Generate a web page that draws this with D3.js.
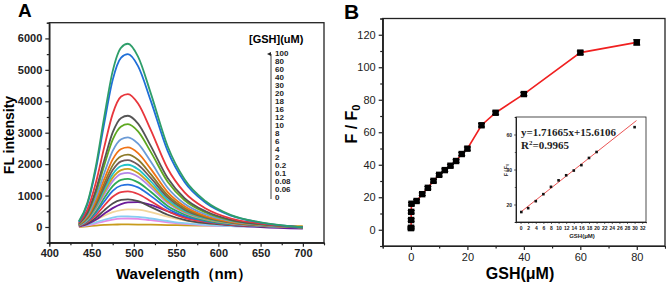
<!DOCTYPE html>
<html>
<head>
<meta charset="utf-8">
<script src="https://cdn.jsdelivr.net/npm/d3@7"></script>
<style>
body { margin: 0; background: #fff; }
svg { display: block; font-family: "Liberation Sans", Arial, sans-serif; }
.ax path, .ax line { stroke: #222; }
.ax text { fill: #222; }
</style>
</head>
<body>
<div id="chart"></div>
<script>
// ---- panel A data: fluorescence spectra, one row per GSH level (highest first)
var wavelengths = [435, 445, 455, 465, 475, 485, 493, 505, 520, 540, 560, 585, 615, 650, 700]
var spectra = [
	[180, 760, 1920, 3500, 4960, 5710, 5830, 5420, 4260, 2570, 1520, 820, 380, 150, -10],
	[160, 720, 1820, 3300, 4680, 5390, 5500, 5120, 4020, 2420, 1430, 770, 360, 140, -10],
	[130, 550, 1400, 2540, 3600, 4150, 4230, 3930, 3090, 1860, 1100, 590, 270, 110, -10],
	[110, 460, 1170, 2120, 3010, 3470, 3540, 3290, 2580, 1560, 920, 500, 230, 90, -10],
	[100, 430, 1080, 1960, 2780, 3200, 3270, 3040, 2390, 1440, 850, 460, 210, 80, -10],
	[90, 370, 940, 1710, 2420, 2790, 2850, 2650, 2080, 1250, 740, 400, 190, 70, -10],
	[80, 330, 840, 1520, 2150, 2480, 2530, 2350, 1850, 1110, 660, 350, 160, 60, -10],
	[70, 300, 760, 1380, 1960, 2250, 2300, 2140, 1680, 1010, 600, 320, 150, 60, -10],
	[60, 280, 700, 1280, 1810, 2090, 2130, 1980, 1560, 940, 550, 300, 140, 50, -10],
	[60, 260, 650, 1190, 1680, 1940, 1980, 1840, 1450, 870, 510, 280, 130, 50, -10],
	[60, 240, 610, 1110, 1570, 1810, 1850, 1720, 1350, 810, 480, 260, 120, 50, -10],
	[50, 220, 570, 1030, 1460, 1690, 1720, 1600, 1260, 760, 450, 240, 110, 40, -10],
	[50, 200, 500, 920, 1300, 1500, 1530, 1420, 1120, 670, 400, 210, 100, 40, -10],
	[40, 180, 450, 810, 1150, 1320, 1350, 1260, 990, 590, 350, 190, 90, 30, -10],
	[30, 150, 370, 680, 960, 1110, 1130, 1050, 820, 500, 290, 160, 70, 30, -10],
	[30, 110, 290, 530, 750, 860, 880, 820, 640, 390, 230, 120, 60, 20, -10],
	[20, 90, 230, 420, 600, 730, 780, 790, 700, 500, 320, 170, 60, 0, -50],
	[20, 90, 220, 360, 470, 540, 560, 550, 470, 330, 210, 120, 60, 20, 0],
	[20, 70, 150, 230, 300, 335, 340, 320, 270, 190, 120, 70, 30, 10, -10],
	[10, 50, 110, 180, 235, 265, 270, 255, 215, 150, 100, 55, 25, 5, -20],
	[0, 20, 45, 65, 78, 80, 80, 78, 72, 62, 55, 45, 40, 35, 30]
]
var spectraColors = ['#2e9e6a', '#1f6fd8', '#e8363c', '#555555', '#5ea820', '#6b9bd6', '#f07315',
	'#8c7a28', '#6f5a5c', '#22c3c9', '#c9a21f', '#b486e8', '#2faa55', '#2671e0', '#e63a44',
	'#4d4d4d', '#6a1b9a', '#f1d59a', '#86ccf2', '#e48ae6', '#c89b1c']
var gshLevels = ['100', '80', '60', '40', '30', '20', '18', '16', '12', '10', '8', '6', '4', '2',
	'0.2', '0.1', '0.08', '0.06', '0']

// ---- panel B data: F/F0 vs GSH
var gshX = [0, 0.06, 0.08, 0.1, 0.2, 2, 4, 6, 8, 10, 12, 14, 16, 18, 20, 25, 30, 40, 60, 80]
var ratio = [1, 1.2, 6, 11, 16, 17.7, 21.9, 25.8, 30.1, 33.8, 36.7, 39.4, 42.3, 46.6, 49.9, 64.3, 72, 83.5, 109, 115.3]
var ratioErr = [0.6, 0.6, 0.8, 0.8, 0.8, 0.8, 0.8, 0.8, 0.8, 0.8, 0.8, 0.8, 0.8, 1, 1, 1, 1, 1, 1, 1.6]

// ---- inset: linear range
var fitX = [0.2, 2, 4, 6, 8, 10, 12, 14, 16, 18, 20, 30]
var fitY = [15.7, 17.9, 21.9, 25.9, 30.1, 33.8, 36.7, 39.4, 42.5, 46.6, 50, 64.2]
var fitSlope = 1.71665, fitIntercept = 15.6106
var fitRange = [0, 30.5]

var svg = d3.select('#chart').append('svg').attr('width', 666).attr('height', 286)

function frame(x, y, sw) {
	svg.append('rect')
		.attr('x', x.range()[0]).attr('y', y.range()[1])
		.attr('width', x.range()[1] - x.range()[0]).attr('height', y.range()[0] - y.range()[1])
		.attr('fill', 'none').attr('stroke', '#222').attr('stroke-width', sw || 1.3)
}

function axes(x, y, opt) {
	var gx = svg.append('g').attr('class', 'ax').attr('transform', 'translate(0,' + y.range()[0] + ')')
	gx.call(d3.axisBottom(x).tickValues(opt.xMinor).tickSize(opt.minor).tickFormat(''))
	gx.append('g').call(d3.axisBottom(x).tickValues(opt.xMajor).tickSize(opt.major).tickSizeOuter(0)
		.tickPadding(opt.pad).tickFormat(d3.format('d')))
	var gy = svg.append('g').attr('class', 'ax').attr('transform', 'translate(' + x.range()[0] + ',0)')
	gy.call(d3.axisLeft(y).tickValues(opt.yMinor).tickSize(opt.minor).tickFormat(''))
	gy.append('g').call(d3.axisLeft(y).tickValues(opt.yMajor).tickSize(opt.major).tickSizeOuter(0)
		.tickPadding(opt.pad).tickFormat(d3.format('d')))
	svg.selectAll('.ax path').attr('stroke', 'none')
	gx.selectAll('line').attr('stroke-width', opt.sw)
	gy.selectAll('line').attr('stroke-width', opt.sw)
	gx.selectAll('text').style('font-size', opt.font + 'px').style('font-weight', opt.weight)
	gy.selectAll('text').style('font-size', opt.font + 'px').style('font-weight', opt.weight)
}

// ================= panel A
var xA = d3.scaleLinear().domain([400, 725]).range([49.3, 324])
var yA = d3.scaleLinear().domain([-500, 6500]).range([242.7, 22.7])

axes(xA, yA, {
	xMajor: d3.range(400, 701, 50), xMinor: d3.range(425, 726, 50),
	yMajor: d3.range(0, 6001, 1000), yMinor: d3.range(-500, 6501, 1000),
	major: 4, minor: 2.5, pad: 3, font: 11, weight: 'bold', sw: 1.2
})

var lineA = d3.line()
	.x(function(d, i) { return xA(wavelengths[i]) })
	.y(function(d) { return yA(d) })
	.curve(d3.curveMonotoneX)

svg.append('g').selectAll('path').data(spectra.slice().reverse()).join('path')
	.attr('d', lineA)
	.attr('fill', 'none')
	.attr('stroke', function(d, i) { return spectraColors[spectra.length - 1 - i] })
	.attr('stroke-width', 1.8)

frame(xA, yA)

svg.append('text').attr('x', 18).attr('y', 17).text('A')
	.style('font-size', '19px').style('font-weight', 'bold')
svg.append('text').attr('transform', 'translate(14,135) rotate(-90)').attr('text-anchor', 'middle')
	.text('FL intensity').style('font-size', '14px').style('font-weight', 'bold')
svg.append('text').attr('x', 184).attr('y', 279).attr('text-anchor', 'middle')
	.text('Wavelength（nm）').style('font-size', '15px').style('font-weight', 'bold')

// legend
svg.append('text').attr('x', 249).attr('y', 43).text('[GSH](uM)')
	.style('font-size', '11px').style('font-weight', 'bold')
var legY = d3.scalePoint().domain(gshLevels).range([52.7, 196.7])
svg.append('defs').append('marker').attr('id', 'arr')
	.attr('viewBox', '0 0 10 10').attr('refX', 5).attr('refY', 10)
	.attr('markerWidth', 4).attr('markerHeight', 5).attr('orient', 'auto-start-reverse')
	.append('path').attr('d', 'M0,10 L5,0 L10,10 Z').attr('fill', '#222')
svg.append('line').attr('x1', 271).attr('x2', 271).attr('y1', 199).attr('y2', 54)
	.attr('stroke', '#444').attr('stroke-width', 1).attr('marker-end', 'url(#arr)')
svg.append('g').selectAll('text').data(gshLevels).join('text')
	.attr('x', 275).attr('y', function(d) { return legY(d) + 3 })
	.text(function(d) { return d })
	.style('font-size', '8px').style('font-weight', 'bold').attr('fill', '#222')

// ================= panel B
var xB = d3.scaleLinear().domain([-10, 90]).range([382.7, 665])
var yB = d3.scaleLinear().domain([-10, 130]).range([246, 18.5])

axes(xB, yB, {
	xMajor: d3.range(0, 81, 20), xMinor: d3.range(-10, 91, 20),
	yMajor: d3.range(0, 121, 20), yMinor: d3.range(-10, 131, 20),
	major: 4, minor: 2.5, pad: 3, font: 11, weight: 'normal', sw: 1.2
})

var pts = gshX.map(function(x, i) { return { x: x, y: ratio[i], e: ratioErr[i] } })

svg.append('path').datum(pts)
	.attr('d', d3.line().x(function(d) { return xB(d.x) }).y(function(d) { return yB(d.y) }))
	.attr('fill', 'none').attr('stroke', '#f02020').attr('stroke-width', 1.6)

var eb = svg.append('g').selectAll('g').data(pts).join('g')
eb.append('line')
	.attr('x1', function(d) { return xB(d.x) }).attr('x2', function(d) { return xB(d.x) })
	.attr('y1', function(d) { return yB(d.y - d.e) }).attr('y2', function(d) { return yB(d.y + d.e) })
	.attr('stroke', '#000').attr('stroke-width', 1)
eb.selectAll('.cap').data(function(d) { return [d.y - d.e, d.y + d.e].map(function(v) { return { x: d.x, v: v } }) })
	.join('line')
	.attr('x1', function(d) { return xB(d.x) - 3.5 }).attr('x2', function(d) { return xB(d.x) + 3.5 })
	.attr('y1', function(d) { return yB(d.v) }).attr('y2', function(d) { return yB(d.v) })
	.attr('stroke', '#000').attr('stroke-width', 1)
svg.append('g').selectAll('rect').data(pts).join('rect')
	.attr('x', function(d) { return xB(d.x) - 3.2 }).attr('y', function(d) { return yB(d.y) - 3.2 })
	.attr('width', 6.4).attr('height', 6.4).attr('fill', '#000')

frame(xB, yB)

svg.append('text').attr('x', 344).attr('y', 19).text('B')
	.style('font-size', '21px').style('font-weight', 'bold')
svg.append('text').attr('transform', 'translate(357,124) rotate(-90)').attr('text-anchor', 'middle')
	.style('font-size', '16px').style('font-weight', 'bold')
	.call(function(t) {
		t.append('tspan').text('F / F')
		t.append('tspan').text('0').attr('font-size', '11px').attr('dy', 3)
	})
svg.append('text').attr('x', 520).attr('y', 279).attr('text-anchor', 'middle')
	.text('GSH(μM)').style('font-size', '16px').style('font-weight', 'bold')

// ================= inset
var xI = d3.scaleLinear().domain([-1.2, 33]).range([516, 646])
var yI = d3.scaleLinear().domain([10, 70]).range([222, 117])

svg.append('rect').attr('x', 516).attr('y', 117).attr('width', 130).attr('height', 105).attr('fill', '#fff')

axes(xI, yI, {
	xMajor: d3.range(0, 33, 2), xMinor: d3.range(1, 33, 2),
	yMajor: [20, 40, 60], yMinor: [10, 30, 50, 70],
	major: 2, minor: 1.2, pad: 2, font: 5, weight: 'bold', sw: 0.7
})

svg.append('line')
	.attr('x1', xI(fitRange[0])).attr('y1', yI(fitSlope * fitRange[0] + fitIntercept))
	.attr('x2', xI(fitRange[1])).attr('y2', yI(fitSlope * fitRange[1] + fitIntercept))
	.attr('stroke', '#e84040').attr('stroke-width', 0.9)

svg.append('g').selectAll('rect').data(fitX).join('rect')
	.attr('x', function(d) { return xI(d) - 1.3 }).attr('y', function(d, i) { return yI(fitY[i]) - 1.3 })
	.attr('width', 2.6).attr('height', 2.6).attr('fill', '#111')

frame(xI, yI, 0.8)

var serif = '"Liberation Serif", "Times New Roman", serif'
svg.append('text').attr('x', 521).attr('y', 136).text('y=1.71665x+15.6106')
	.style('font-family', serif).style('font-size', '11px').style('font-weight', 'bold').attr('fill', '#222')
svg.append('text').attr('x', 521).attr('y', 149).style('font-family', serif)
	.style('font-size', '11px').style('font-weight', 'bold').attr('fill', '#222')
	.call(function(t) {
		t.append('tspan').text('R')
		t.append('tspan').text('2').attr('font-size', '7px').attr('dy', -4)
		t.append('tspan').text('=0.9965').attr('dy', 4)
	})
svg.append('text').attr('transform', 'translate(508,170) rotate(-90)').attr('text-anchor', 'middle')
	.style('font-size', '5px').style('font-weight', 'bold').attr('fill', '#222')
	.call(function(t) {
		t.append('tspan').text('F / F')
		t.append('tspan').text('0').attr('font-size', '3.5px').attr('dy', 1)
	})
svg.append('text').attr('x', 582).attr('y', 238).attr('text-anchor', 'middle')
	.text('GSH(μM)').style('font-size', '6px').style('font-weight', 'bold').attr('fill', '#222')
</script>
</body>
</html>
